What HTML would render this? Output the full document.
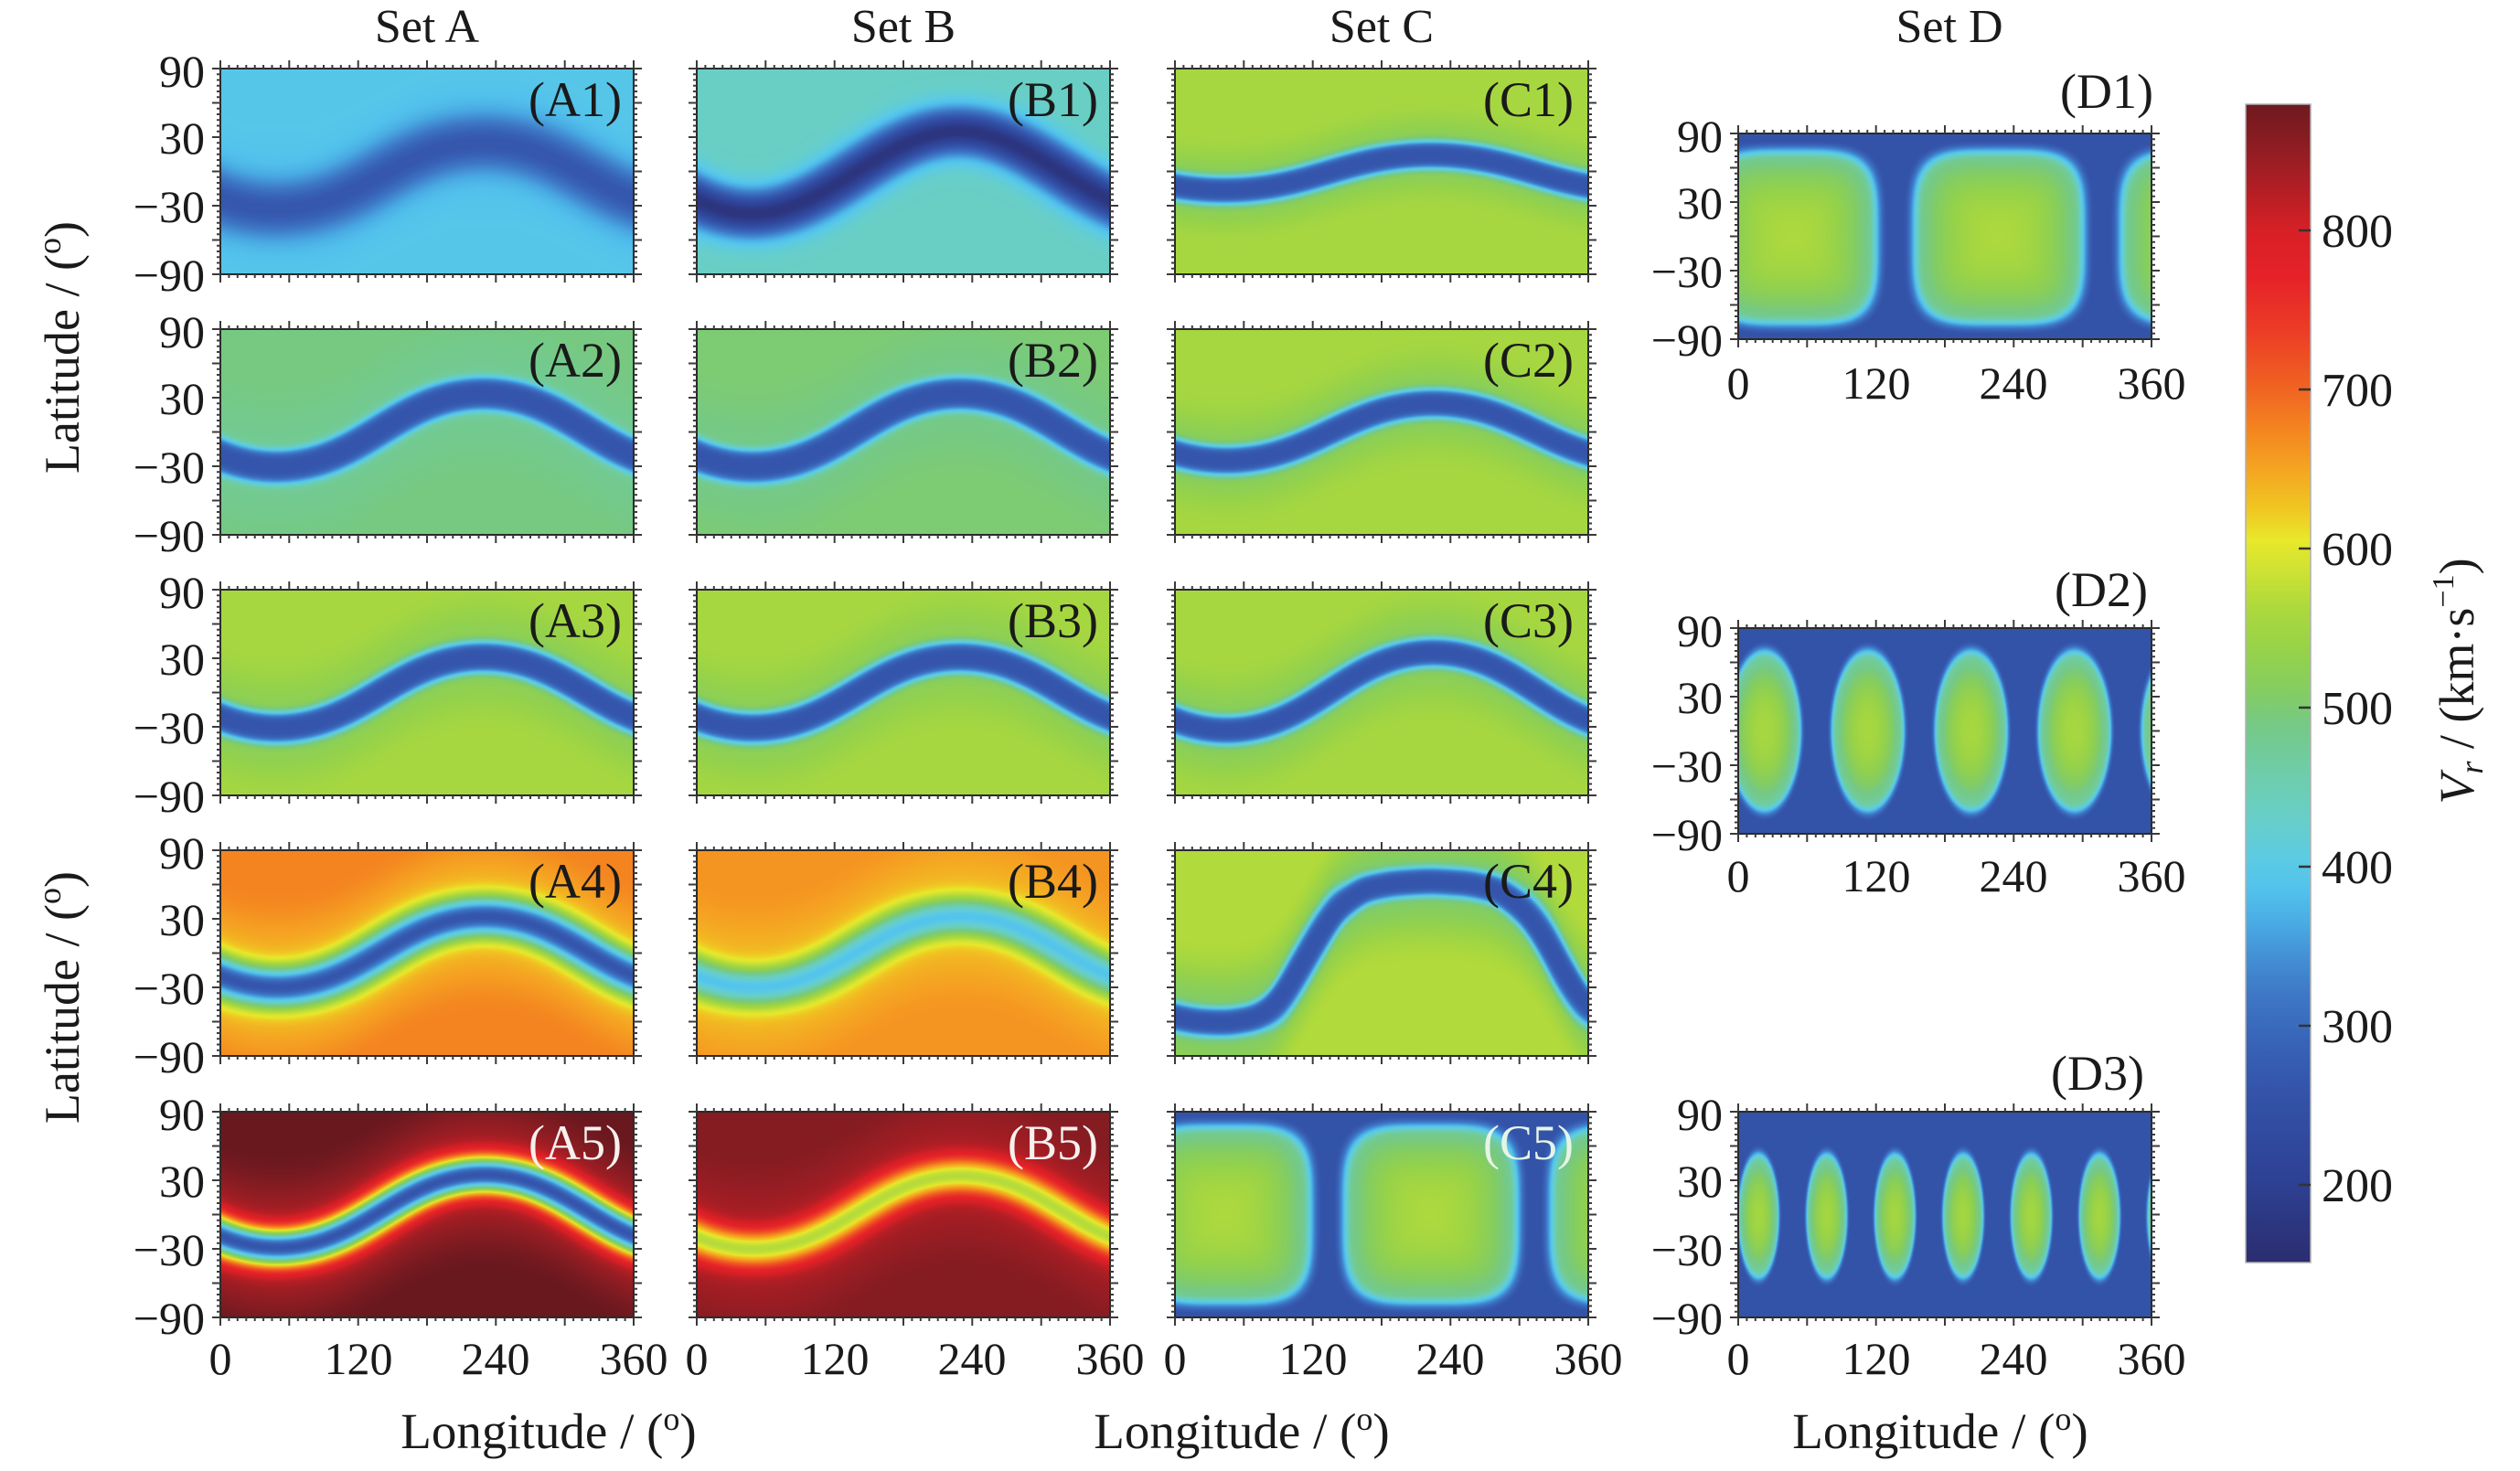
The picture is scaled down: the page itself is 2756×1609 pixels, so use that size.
<!DOCTYPE html>
<html><head><meta charset="utf-8">
<style>
html,body{margin:0;padding:0;background:#fff;}
#wrap{position:relative;width:2756px;height:1609px;overflow:hidden;background:#fff;}
#fields canvas{position:absolute;}
svg{position:absolute;left:0;top:0;}
text{font-family:"Liberation Serif","DejaVu Serif",serif;fill:#1a1a1a;}
</style></head><body>
<div id="wrap">
<svg width="2756" height="1609">
<rect x="241" y="75" width="452" height="225" fill="#56c5e8"/>
<rect x="762" y="75" width="452" height="225" fill="#6ccdc5"/>
<rect x="1285" y="75" width="452" height="225" fill="#a3d446"/>
<rect x="241" y="360" width="452" height="225" fill="#78c98a"/>
<rect x="762" y="360" width="452" height="225" fill="#7bc87c"/>
<rect x="1285" y="360" width="452" height="225" fill="#a0d44a"/>
<rect x="241" y="645" width="452" height="225" fill="#9fd44a"/>
<rect x="762" y="645" width="452" height="225" fill="#9fd44a"/>
<rect x="1285" y="645" width="452" height="225" fill="#a0d44a"/>
<rect x="241" y="930" width="452" height="225" fill="#f4a222"/>
<rect x="762" y="930" width="452" height="225" fill="#f5aa22"/>
<rect x="1285" y="930" width="452" height="225" fill="#98d050"/>
<rect x="241" y="1216" width="452" height="225" fill="#8a1c22"/>
<rect x="762" y="1216" width="452" height="225" fill="#9a2026"/>
<rect x="1285" y="1216" width="452" height="225" fill="#6a90c0"/>
<rect x="1901" y="146" width="452" height="225" fill="#6a90c0"/>
<rect x="1901" y="687" width="452" height="225" fill="#5575b8"/>
<rect x="1901" y="1216" width="452" height="225" fill="#4a66b2"/>
</svg>
<div id="fields"></div>
<svg width="2756" height="1609">
<defs>
<linearGradient id="cb" x1="0" y1="0" x2="0" y2="1">
<stop offset="0" stop-color="rgb(111,25,31)"/>
<stop offset="0.0261" stop-color="rgb(132,28,34)"/>
<stop offset="0.0673" stop-color="rgb(172,30,36)"/>
<stop offset="0.1085" stop-color="rgb(214,32,38)"/>
<stop offset="0.1497" stop-color="rgb(230,34,40)"/>
<stop offset="0.1978" stop-color="rgb(236,62,38)"/>
<stop offset="0.2459" stop-color="rgb(240,100,34)"/>
<stop offset="0.2802" stop-color="rgb(244,132,32)"/>
<stop offset="0.3146" stop-color="rgb(245,164,34)"/>
<stop offset="0.3489" stop-color="rgb(240,198,34)"/>
<stop offset="0.3764" stop-color="rgb(232,232,42)"/>
<stop offset="0.4038" stop-color="rgb(205,226,52)"/>
<stop offset="0.4382" stop-color="rgb(170,216,62)"/>
<stop offset="0.4725" stop-color="rgb(150,210,74)"/>
<stop offset="0.5069" stop-color="rgb(132,205,98)"/>
<stop offset="0.5343" stop-color="rgb(118,201,132)"/>
<stop offset="0.5755" stop-color="rgb(110,205,168)"/>
<stop offset="0.6168" stop-color="rgb(104,206,200)"/>
<stop offset="0.6511" stop-color="rgb(92,203,228)"/>
<stop offset="0.6786" stop-color="rgb(82,194,236)"/>
<stop offset="0.7060" stop-color="rgb(74,172,228)"/>
<stop offset="0.7335" stop-color="rgb(68,146,214)"/>
<stop offset="0.7679" stop-color="rgb(62,120,198)"/>
<stop offset="0.8091" stop-color="rgb(56,100,184)"/>
<stop offset="0.8503" stop-color="rgb(52,84,170)"/>
<stop offset="0.8915" stop-color="rgb(48,74,158)"/>
<stop offset="0.9327" stop-color="rgb(46,64,146)"/>
<stop offset="0.9670" stop-color="rgb(44,54,128)"/>
<stop offset="1" stop-color="rgb(43,45,111)"/>
</linearGradient>
</defs>
<g fill="none" stroke="#2a2a2a" stroke-width="2">
<rect x="241" y="75" width="452" height="225"/>
<rect x="762" y="75" width="452" height="225"/>
<rect x="1285" y="75" width="452" height="225"/>
<rect x="241" y="360" width="452" height="225"/>
<rect x="762" y="360" width="452" height="225"/>
<rect x="1285" y="360" width="452" height="225"/>
<rect x="241" y="645" width="452" height="225"/>
<rect x="762" y="645" width="452" height="225"/>
<rect x="1285" y="645" width="452" height="225"/>
<rect x="241" y="930" width="452" height="225"/>
<rect x="762" y="930" width="452" height="225"/>
<rect x="1285" y="930" width="452" height="225"/>
<rect x="241" y="1216" width="452" height="225"/>
<rect x="762" y="1216" width="452" height="225"/>
<rect x="1285" y="1216" width="452" height="225"/>
<rect x="1901" y="146" width="452" height="225"/>
<rect x="1901" y="687" width="452" height="225"/>
<rect x="1901" y="1216" width="452" height="225"/>
</g>
<path id="tk" d="" fill="none" stroke="#3a3a3a" stroke-width="2"/>

<!-- colorbar -->
<rect x="2456" y="114" width="71" height="1267" fill="url(#cb)" stroke="#b0b0b0" stroke-width="1.5"/>
<g stroke="#333" stroke-width="2.5">
<line x1="2514" y1="252" x2="2527" y2="252"/>
<line x1="2514" y1="426" x2="2527" y2="426"/>
<line x1="2514" y1="600" x2="2527" y2="600"/>
<line x1="2514" y1="774" x2="2527" y2="774"/>
<line x1="2514" y1="948" x2="2527" y2="948"/>
<line x1="2514" y1="1122" x2="2527" y2="1122"/>
<line x1="2514" y1="1296" x2="2527" y2="1296"/>
</g>
<g font-size="52">
<text x="2539" y="270">800</text>
<text x="2539" y="444">700</text>
<text x="2539" y="618">600</text>
<text x="2539" y="792">500</text>
<text x="2539" y="966">400</text>
<text x="2539" y="1140">300</text>
<text x="2539" y="1314">200</text>
</g>
<text transform="translate(2705,745) rotate(-90)" text-anchor="middle" font-size="54"><tspan font-style="italic">V</tspan><tspan font-style="italic" font-size="36" dy="10">r</tspan><tspan dy="-10"> / (km·s</tspan><tspan font-size="34" dy="-22">−1</tspan><tspan dy="22">)</tspan></text>

<!-- titles -->
<g font-size="52" text-anchor="middle">
<text x="467" y="46">Set A</text>
<text x="988" y="46">Set B</text>
<text x="1511" y="46">Set C</text>
<text x="2132" y="46">Set D</text>
</g>

<!-- y tick labels -->
<g font-size="50" text-anchor="end">
<text x="224" y="95">90</text><text x="224" y="168">30</text><text x="224" y="243">−30</text><text x="224" y="318">−90</text>
<text x="224" y="380">90</text><text x="224" y="453">30</text><text x="224" y="528">−30</text><text x="224" y="603">−90</text>
<text x="224" y="665">90</text><text x="224" y="738">30</text><text x="224" y="813">−30</text><text x="224" y="888">−90</text>
<text x="224" y="950">90</text><text x="224" y="1023">30</text><text x="224" y="1098">−30</text><text x="224" y="1173">−90</text>
<text x="224" y="1236">90</text><text x="224" y="1309">30</text><text x="224" y="1384">−30</text><text x="224" y="1459">−90</text>
<text x="1884" y="166">90</text><text x="1884" y="239">30</text><text x="1884" y="314">−30</text><text x="1884" y="389">−90</text>
<text x="1884" y="707">90</text><text x="1884" y="780">30</text><text x="1884" y="855">−30</text><text x="1884" y="930">−90</text>
<text x="1884" y="1236">90</text><text x="1884" y="1309">30</text><text x="1884" y="1384">−30</text><text x="1884" y="1459">−90</text>
</g>

<!-- x tick labels -->
<g font-size="50" text-anchor="middle">
<text x="241" y="1503">0</text><text x="392" y="1503">120</text><text x="542" y="1503">240</text><text x="693" y="1503">360</text>
<text x="762" y="1503">0</text><text x="913" y="1503">120</text><text x="1063" y="1503">240</text><text x="1214" y="1503">360</text>
<text x="1285" y="1503">0</text><text x="1436" y="1503">120</text><text x="1586" y="1503">240</text><text x="1737" y="1503">360</text>
<text x="1901" y="436">0</text><text x="2052" y="436">120</text><text x="2202" y="436">240</text><text x="2353" y="436">360</text>
<text x="1901" y="975">0</text><text x="2052" y="975">120</text><text x="2202" y="975">240</text><text x="2353" y="975">360</text>
<text x="1901" y="1503">0</text><text x="2052" y="1503">120</text><text x="2202" y="1503">240</text><text x="2353" y="1503">360</text>
</g>

<!-- panel labels -->
<g font-size="54" text-anchor="end">
<text x="680" y="127">(A1)</text><text x="1201" y="127">(B1)</text><text x="1721" y="127">(C1)</text>
<text x="680" y="412">(A2)</text><text x="1201" y="412">(B2)</text><text x="1721" y="412">(C2)</text>
<text x="680" y="697">(A3)</text><text x="1201" y="697">(B3)</text><text x="1721" y="697">(C3)</text>
<text x="680" y="982">(A4)</text><text x="1201" y="982">(B4)</text><text x="1721" y="982">(C4)</text>
<text x="680" y="1268" style="fill:#f6f0ee">(A5)</text><text x="1201" y="1268" style="fill:#f6f0ee">(B5)</text><text x="1721" y="1268" style="fill:#e6f4e6">(C5)</text>
<text x="2355" y="118">(D1)</text>
<text x="2349" y="663">(D2)</text>
<text x="2345" y="1192">(D3)</text>
</g>

<!-- axis labels -->
<text transform="translate(86,380) rotate(-90)" text-anchor="middle" font-size="54">Latitude / (<tspan font-size="36" dy="-20">o</tspan><tspan dy="20">)</tspan></text>
<text transform="translate(86,1091) rotate(-90)" text-anchor="middle" font-size="54">Latitude / (<tspan font-size="36" dy="-20">o</tspan><tspan dy="20">)</tspan></text>
<g font-size="55" text-anchor="middle">
<text x="600" y="1584">Longitude / (<tspan font-size="36" dy="-20">o</tspan><tspan dy="20">)</tspan></text>
<text x="1358" y="1584">Longitude / (<tspan font-size="36" dy="-20">o</tspan><tspan dy="20">)</tspan></text>
<text x="2122" y="1584">Longitude / (<tspan font-size="36" dy="-20">o</tspan><tspan dy="20">)</tspan></text>
</g>
</svg>
</div>
<script>
(function(){
var stops=[[150,43,45,110],[175,44,54,128],[200,46,64,146],[230,48,74,158],[260,52,84,170],[290,56,100,184],[320,62,120,198],[345,68,146,214],[365,74,172,228],[385,82,194,236],[405,92,203,228],[430,104,206,200],[460,110,205,168],[490,118,201,132],[510,132,205,98],[535,150,210,74],[560,170,216,62],[585,205,226,52],[605,232,232,42],[625,240,198,34],[650,245,164,34],[675,244,132,32],[700,240,100,34],[735,236,62,38],[770,230,34,40],[800,214,32,38],[830,172,30,36],[860,132,28,34],[885,105,24,30]];
function cmap(v){
  if(v<=stops[0][0]) return [stops[0][1],stops[0][2],stops[0][3]];
  for(var i=1;i<stops.length;i++){
    if(v<=stops[i][0]){var a=stops[i-1],b=stops[i],t=(v-a[0])/(b[0]-a[0]);
      return [a[1]+(b[1]-a[1])*t,a[2]+(b[2]-a[2])*t,a[3]+(b[3]-a[3])*t];}
  }
  var l=stops[stops.length-1];return [l[1],l[2],l[3]];
}
var LUT=[];for(var q=0;q<=2000;q++){LUT.push(cmap(100+q*0.5));}
function lut(v){var k=Math.round((v-100)*2);if(k<0)k=0;if(k>2000)k=2000;return LUT[k];}
function sm(a,b,x){var t=(x-a)/(b-a);if(t<0)t=0;if(t>1)t=1;return t*t*(3-2*t);}

// C4 table
var pts=[[-20,-50],[0,-56],[20,-60],[46,-61],[70,-57],[85,-48],[94,-37],[108,-14],[125,15],[142,40],[165,56],[190,61],[222,63],[255,61],[279,56],[293,47],[307,35],[322,14],[336,-12],[348,-32],[360,-48],[380,-58]];
var tab=[];
for(var L=-40;L<=400;L++){
  var v;
  if(L<=pts[0][0]) v=pts[0][1];
  else if(L>=pts[pts.length-1][0]) v=pts[pts.length-1][1];
  else{for(var i=1;i<pts.length;i++){if(L<=pts[i][0]){var a=pts[i-1],b=pts[i];v=a[1]+(b[1]-a[1])*(L-a[0])/(b[0]-a[0]);break;}}}
  tab.push(v);
}
for(var pass=0;pass<3;pass++){var nt=tab.slice();for(var i=0;i<tab.length;i++){var s=0,c=0;for(var k=-6;k<=6;k++){var j=i+k;if(j>=0&&j<tab.length){s+=tab[j];c++;}}nt[i]=s/c;}tab=nt;}
function tabF(lon){var x=lon+40;var i=Math.floor(x);var f=x-i;if(i<0)return tab[0];if(i>=tab.length-1)return tab[tab.length-1];return tab[i]*(1-f)+tab[i+1]*f;}

function centerF(p,lon){
  if(p.t==='tab') return tabF(lon);
  var th=(lon-p.x0)*Math.PI/180;
  var f=(Math.cos(th)-p.k*Math.cos(3*th))/(1-p.k);
  return p.c-p.A*f;
}
var P=[
 {x:241,y:75,t:'s',c:-4,A:29,x0:49,k:0.02,core:265,bn:386,bf:394,d0:20,d1:80,w:23,p:2},
 {x:762,y:75,t:'s',c:-1,A:36,x0:48,k:0,core:172,bn:432,bf:434,d0:20,d1:80,w:20,p:2},
 {x:1285,y:75,t:'s',c:-1,A:15.5,x0:43,k:0.02,core:262,bn:512,bf:556,d0:5,d1:50,w:12.5,p:4},
 {x:241,y:360,t:'s',c:1.5,A:32,x0:49,k:0.02,core:262,bn:478,bf:492,d0:15,d1:80,w:15,p:4},
 {x:762,y:360,t:'s',c:1.5,A:32,x0:49,k:0.02,core:262,bn:488,bf:500,d0:15,d1:80,w:15,p:4},
 {x:1285,y:360,t:'s',c:0,A:25,x0:45,k:0.02,core:262,bn:512,bf:555,d0:5,d1:60,w:13,p:4},
 {x:241,y:645,t:'s',c:0,A:31,x0:49,k:0.02,core:262,bn:520,bf:556,d0:10,d1:70,w:14,p:4},
 {x:762,y:645,t:'s',c:0,A:31,x0:49,k:0.02,core:262,bn:520,bf:556,d0:10,d1:70,w:14,p:4},
 {x:1285,y:645,t:'s',c:1,A:34,x0:45,k:0.02,core:262,bn:515,bf:556,d0:8,d1:65,w:13,p:4},
 {x:241,y:930,t:'s',c:1,A:31,x0:50,k:0.02,core:262,bn:640,bf:675,d0:25,d1:85,w:17,p:2},
 {x:762,y:930,t:'s',c:1,A:31,x0:50,k:0.02,core:390,bn:638,bf:662,d0:25,d1:85,w:17,p:2},
 {x:1285,y:930,t:'tab',core:262,bn:505,bf:565,d0:10,d1:70,w:13,p:4},
 {x:241,y:1216,t:'s',c:3,A:32,x0:50,k:0.02,core:262,bn:838,bf:885,d0:25,d1:85,w:16,p:2},
 {x:762,y:1216,t:'s',c:2,A:32,x0:50,k:0.02,core:568,bn:836,bf:860,d0:25,d1:85,w:16,p:2},
 {x:1285,y:1216,t:'cell',x0:43,per:180,a:84,b:86,lc:0,n:4,vc:562,ve:485,vout:256,r0:0.8,r1:1.02},
 {x:1901,y:146,t:'cell',x0:47,per:180,a:82,b:84,lc:-1,n:4,vc:562,ve:485,vout:256,r0:0.8,r1:1.02},
 {x:1901,y:687,t:'cell',x0:23,per:90,a:35,b:78,lc:0,n:2,vc:556,ve:470,vout:256,r0:0.8,r1:1.02},
 {x:1901,y:1216,t:'cell',x0:17.7,per:59.4,a:20,b:62,lc:-1.3,n:2,vc:552,ve:470,vout:256,r0:0.76,r1:1.02}
];
var host=document.getElementById('fields');
var W=452,H=225;
P.forEach(function(p){
  var cv=document.createElement('canvas');cv.width=W;cv.height=H;
  cv.style.left=p.x+'px';cv.style.top=p.y+'px';host.appendChild(cv);
  var ctx=cv.getContext('2d');var img=ctx.createImageData(W,H);var D=img.data;
  var cen=null,sf=null;
  if(p.t!=='cell'){cen=new Float32Array(W);sf=new Float32Array(W);
    for(var i=0;i<W;i++){var lon=(i+0.5)/W*360;cen[i]=centerF(p,lon);var s=centerF(p,lon+0.5)-centerF(p,lon-0.5);sf[i]=1/Math.sqrt(1+s*s);}}
  for(var j=0;j<H;j++){var lat=90-(j+0.5)/H*180;
    for(var i=0;i<W;i++){var lon=(i+0.5)/W*360;var v;
      if(p.t==='cell'){
        var dx=((lon-p.x0)%p.per+p.per*1.5)%p.per-p.per/2;
        var dy=lat-p.lc;
        var r=Math.pow(Math.pow(Math.abs(dx)/p.a,p.n)+Math.pow(Math.abs(dy)/p.b,p.n),1/p.n);
        var rr=Math.min(1,r/p.r0);
        var vin=p.vc-(p.vc-p.ve)*rr*rr;
        var T=1-sm(p.r0,p.r1,r);
        v=p.vout+(vin-p.vout)*T;
      }else{
        var d=lat-cen[i];var ad=Math.abs(d);var dp=ad*sf[i];
        var bg=p.bn+(p.bf-p.bn)*sm(p.d0,p.d1,ad);
        var band=Math.exp(-Math.pow(dp/p.w,p.p));
        v=bg+(p.core-bg)*band;
      }
      var col=lut(v);var k=(j*W+i)*4;D[k]=col[0];D[k+1]=col[1];D[k+2]=col[2];D[k+3]=255;
    }}
  ctx.putImageData(img,0,0);
});
// ticks
var d='';
P.forEach(function(p){
  var x=p.x,y=p.y,w=W,h=H;
  for(var k=0;k<=48;k++){var X=(x+k*7.5/360*w).toFixed(1);var L=(k%8===0)?9:4;d+='M'+X+' '+y+'v'+(-L)+'M'+X+' '+(y+h)+'v'+L;}
  for(var k=0;k<=36;k++){var Y=(y+k*5/180*h).toFixed(1);var L=(k%6===0)?9:4;d+='M'+x+' '+Y+'h'+(-L)+'M'+(x+w)+' '+Y+'h'+L;}
});
document.getElementById('tk').setAttribute('d',d);
})();
</script>
</body></html>
